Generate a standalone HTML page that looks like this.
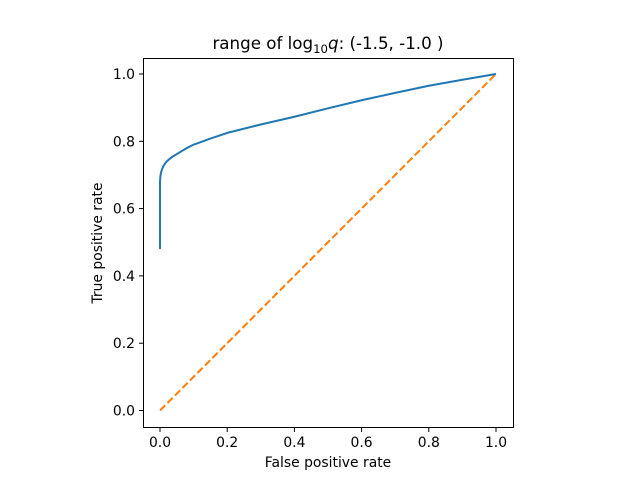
<!DOCTYPE html>
<html><head><meta charset="utf-8"><style>
body{margin:0;background:#fff;}
svg{font-family:"DejaVu Sans","Liberation Sans",sans-serif;}
</style></head><body>
<svg id="chart" width="640" height="480" viewBox="0 0 640 480">
<rect x="0" y="0" width="640" height="480" fill="#fff"/>
<text x="328" y="49" text-anchor="middle" font-size="16.7">range of log<tspan font-size="11.7" dy="4">10</tspan><tspan dy="-4" font-style="italic">q</tspan>: (-1.5, -1.0 )</text>
<g id="xt"></g><g id="yt"></g><g id="plot"></g>
<rect x="143.5" y="58.5" width="370" height="369" fill="none" stroke="#000" stroke-width="1"/>
<text x="328" y="467" text-anchor="middle" font-size="13.9">False positive rate</text>
<text x="102" y="243" text-anchor="middle" font-size="13.9" transform="rotate(-90 102 243)">True positive rate</text>
</svg>
<script>
const fpr=[0,0,0.001,0.003,0.006,0.01,0.015,0.02,0.03,0.04,0.06,0.08,0.1,0.15,0.2,0.3,0.4,0.5,0.6,0.7,0.8,0.9,1];
const tpr=[0.48,0.68,0.695,0.707,0.717,0.726,0.734,0.74,0.749,0.756,0.768,0.78,0.79,0.808,0.825,0.85,0.873,0.898,0.922,0.944,0.965,0.983,1];
const diagX=[0,1];
const diagY=[0,1];
const ticks=[0,0.2,0.4,0.6,0.8,1.0];
const tickLabels=["0.0","0.2","0.4","0.6","0.8","1.0"];
const sx=v=>160+v*336, sy=v=>410.5-v*336.5;
const NS="http://www.w3.org/2000/svg";
function mk(t,a,p){const e=document.createElementNS(NS,t);for(const k in a)e.setAttribute(k,a[k]);p.appendChild(e);return e;}
const xt=document.getElementById('xt'),yt=document.getElementById('yt'),pl=document.getElementById('plot');
ticks.forEach((t,i)=>{
 const x=sx(t);
 const l=mk('line',{x1:x,x2:x,y1:427.5,y2:432,stroke:'#000'},xt);
 
 
 const tx=mk('text',{x:x,y:447,'text-anchor':'middle','font-size':13.9},xt);tx.textContent=tickLabels[i];
 
 
 const y=sy(t);
 const l2=mk('line',{x1:139,x2:143.5,y1:y,y2:y,stroke:'#000'},yt);
 
 
 const ty=mk('text',{x:135,y:y+5,'text-anchor':'end','font-size':13.9},yt);ty.textContent=tickLabels[i];
 
 
});
const d=mk('polyline',{points:diagX.map((v,i)=>sx(v)+','+sy(diagY[i])).join(' '),fill:'none',stroke:'#ff7f0e','stroke-width':2,'stroke-dasharray':'7.4,3.2'},pl);


const c=mk('polyline',{points:fpr.map((v,i)=>sx(v)+','+sy(tpr[i])).join(' '),fill:'none',stroke:'#1f77b4','stroke-width':2,'stroke-linejoin':'round'},pl);


</script>
</body></html>
